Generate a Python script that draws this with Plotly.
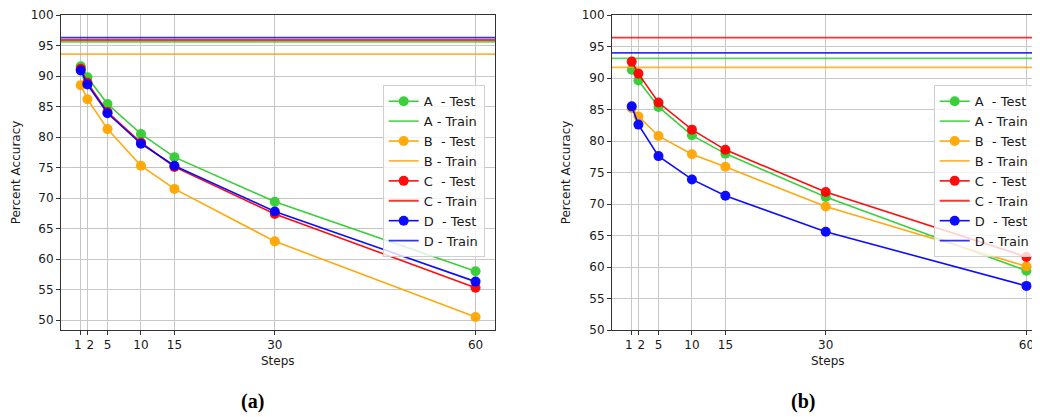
import plotly.graph_objects as go

# ---------------- data ----------------
STEPS = [1, 2, 5, 10, 15, 30, 60]
STEP_LABELS = ["1\u2002", "\u20022", "5", "10", "15", "30", "60"]
Y_TICKS = [50, 55, 60, 65, 70, 75, 80, 85, 90, 95, 100]

MODELS = ["A", "B", "C", "D"]
COLORS = {"A": "#32cd32", "B": "#ffa500", "C": "#ff0000", "D": "#0000ff"}

# panel (a)
A_test_a = [91.6, 89.8, 85.4, 80.5, 76.7, 69.4, 58.0]
B_test_a = [88.5, 86.2, 81.3, 75.3, 71.5, 62.9, 50.5]
C_test_a = [91.2, 88.9, 84.1, 79.1, 75.1, 67.4, 55.3]
D_test_a = [90.9, 88.6, 83.9, 78.9, 75.3, 67.8, 56.3]
train_a = {"A": 95.6, "B": 93.6, "C": 95.9, "D": 96.3}

# panel (b)
A_test_b = [91.3, 89.6, 85.4, 80.9, 78.0, 71.1, 59.4]
B_test_b = [85.2, 83.9, 80.8, 77.9, 75.9, 69.6, 60.1]
C_test_b = [92.6, 90.7, 86.1, 81.8, 78.6, 71.9, 61.6]
D_test_b = [85.5, 82.6, 77.6, 73.9, 71.3, 65.6, 57.0]
train_b = {"A": 93.1, "B": 91.7, "C": 96.4, "D": 94.0}

test_a = {"A": A_test_a, "B": B_test_a, "C": C_test_a, "D": D_test_a}
test_b = {"A": A_test_b, "B": B_test_b, "C": C_test_b, "D": D_test_b}

# axis ranges
XR_A = [-1.95, 62.95]
XR_B = [-1.95, 62.03]
YR_A = [48.37, 100]
YR_B = [50, 100]

FONT = "DejaVu Sans"
TXT = "#1a1a1a"

# the page body adds an 8px offset; lay out in screen pixels minus that
OFF = 8
W, H = 1040 - OFF, 417 - OFF
ML, MR, MT, MB = 61 - OFF, 0, 13.3 - OFF, (417 - OFF) - (330 - OFF)
PW = W - ML - MR
PH = H - MT - MB


def px(sx):
    return (sx - OFF - ML) / PW


def py(sy):
    return 1 - (sy - OFF - MT) / PH


fig = go.Figure()


def add_panel(test, train, xa, ya, legend, xr):
    for m in MODELS:
        fig.add_trace(go.Scatter(
            x=STEPS, y=test[m], xaxis=xa, yaxis=ya, legend=legend,
            mode="lines+markers", name=f"{m}\u00a0\u00a0- Test",
            line=dict(color=COLORS[m], width=1.6),
            marker=dict(color=COLORS[m], size=10),
            opacity=0.95,
        ))
        fig.add_trace(go.Scatter(
            x=xr, y=[train[m], train[m]], xaxis=xa, yaxis=ya, legend=legend,
            mode="lines", name=f"{m} - Train",
            line=dict(color=COLORS[m], width=1.8),
            opacity=0.8,
        ))


add_panel(test_a, train_a, "x", "y", "legend", XR_A)
add_panel(test_b, train_b, "x2", "y2", "legend2", XR_B)

axis_common = dict(
    showgrid=True, gridcolor="#c8c8c8", gridwidth=0.8,
    zeroline=False, showline=True, linecolor="#333333", linewidth=1,
    ticks="outside", ticklen=4, tickwidth=0.8, tickcolor="#333333",
    tickfont=dict(family=FONT, size=12, color=TXT), tickangle=0,
)

legend_common = dict(
    xanchor="left", yanchor="top",
    bgcolor="rgba(255,255,255,0.8)", bordercolor="#d0d0d0",
    borderwidth=1, font=dict(family=FONT, size=13, color=TXT),
    itemwidth=30, tracegroupgap=0,
)

fig.update_layout(
    width=W, height=H,
    margin=dict(l=ML, r=MR, t=MT, b=MB, pad=0),
    paper_bgcolor="white", plot_bgcolor="white",
    font=dict(family=FONT, size=12, color=TXT),
    xaxis=dict(domain=[0, px(495.3)], range=XR_A, tickvals=STEPS,
               ticktext=STEP_LABELS, mirror=True, anchor="y", **axis_common),
    yaxis=dict(domain=[0, 1], range=YR_A, tickvals=Y_TICKS, mirror=True,
               anchor="x", **axis_common),
    xaxis2=dict(domain=[px(612), 1], range=XR_B, tickvals=STEPS,
                ticktext=STEP_LABELS, mirror=True, anchor="y2", **axis_common),
    yaxis2=dict(domain=[0, 1], range=YR_B, tickvals=Y_TICKS, mirror=False,
                anchor="x2", **axis_common),
    legend=dict(x=px(382.7), y=py(84), **legend_common),
    legend2=dict(x=px(933.7), y=py(84), **legend_common),
    showlegend=True,
)

annos = [
    dict(text="Percent Accuracy", x=px(16), y=py(171.5), textangle=-90),
    dict(text="Percent Accuracy", x=px(566), y=py(171.5), textangle=-90),
    dict(text="Steps", x=px(278), y=py(361)),
    dict(text="Steps", x=px(828), y=py(361)),
]
for a in annos:
    fig.add_annotation(xref="paper", yref="paper", showarrow=False,
                       xanchor="center", yanchor="middle",
                       font=dict(family=FONT, size=12, color=TXT), **a)

for t, xc in [("<b>(a)</b>", 252), ("<b>(b)</b>", 803)]:
    fig.add_annotation(text=t, xref="paper", yref="paper", x=px(xc), y=py(402),
                       showarrow=False, xanchor="center", yanchor="middle",
                       font=dict(family="Liberation Serif", size=20, color="black"))

fig.write_html("out.html")
